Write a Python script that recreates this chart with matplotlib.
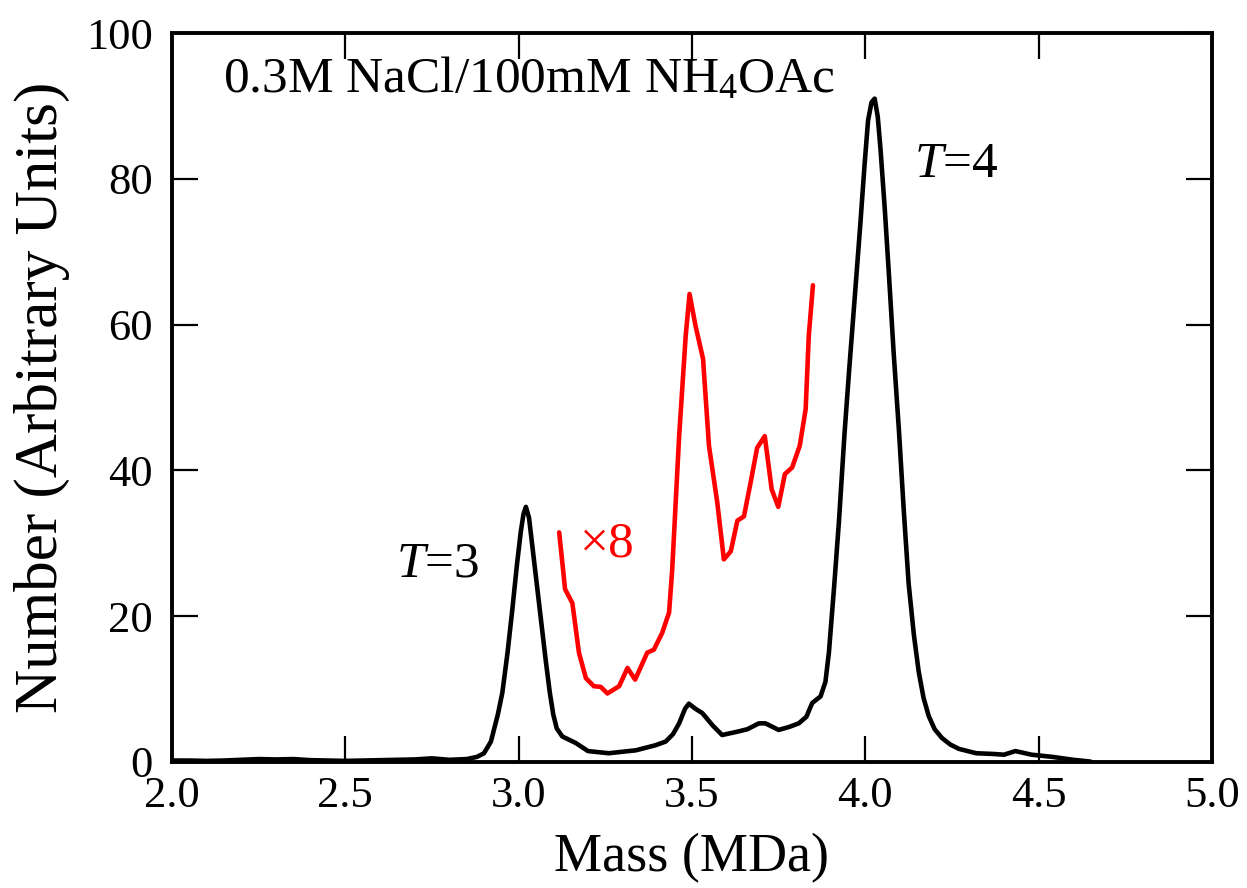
import matplotlib
matplotlib.use("Agg")
import matplotlib.pyplot as plt
import numpy as np

plt.rcParams['font.family'] = 'Liberation Serif'
plt.rcParams['mathtext.fontset'] = 'custom'
plt.rcParams['mathtext.rm'] = 'Liberation Serif'
plt.rcParams['mathtext.it'] = 'Liberation Serif:italic'

# Spettro principale (massa in MDa, numero)
mass_black = [2.00, 2.05, 2.10, 2.15, 2.20, 2.25, 2.30, 2.35, 2.40, 2.45, 2.50,
              2.55, 2.60, 2.65, 2.70, 2.75, 2.80, 2.85, 2.88, 2.90, 2.92, 2.94,
              2.953, 2.968, 2.982, 2.995, 3.006, 3.014, 3.021, 3.03, 3.045, 3.062,
              3.078, 3.09, 3.10, 3.11, 3.126, 3.165, 3.20,
              3.26, 3.318, 3.338, 3.395, 3.424, 3.445, 3.463, 3.48, 3.491, 3.51,
              3.53, 3.56, 3.587, 3.635,
              3.66, 3.693, 3.712, 3.75, 3.78, 3.808, 3.83, 3.847, 3.871, 3.885,
              3.895, 3.91, 3.924, 3.94, 3.953, 3.97, 3.986, 3.998, 4.008, 4.018,
              4.027, 4.036, 4.044, 4.056, 4.068, 4.082, 4.097, 4.111, 4.125, 4.14,
              4.154, 4.168, 4.183, 4.20, 4.221, 4.245, 4.27, 4.32, 4.37, 4.40,
              4.433, 4.48, 4.54, 4.60, 4.65]
count_black = [0.2, 0.2, 0.15, 0.2, 0.3, 0.4, 0.35, 0.4, 0.25, 0.2, 0.15,
               0.2, 0.25, 0.3, 0.35, 0.5, 0.3, 0.4, 0.7, 1.2, 2.8, 6.5,
               9.5, 15.0, 21.0, 27.0, 31.5, 34.0, 35.0, 33.5, 27.4, 20.5,
               14.0, 9.5, 6.5, 4.6, 3.5, 2.6, 1.5,
               1.2, 1.5, 1.6, 2.3, 2.8, 3.8, 5.3, 7.3, 8.0, 7.3,
               6.7, 5.0, 3.7, 4.2,
               4.5, 5.3, 5.3, 4.4, 4.8, 5.3, 6.2, 8.1, 9.0, 11.0,
               15.0, 24.0, 33.0, 45.0, 53.5, 64.0, 74.0, 82.0, 88.0, 90.5,
               91.0, 88.5, 84.0, 76.0, 67.0, 56.0, 45.5, 34.5, 24.5, 17.5,
               12.4, 8.8, 6.3, 4.5, 3.3, 2.4, 1.8, 1.2, 1.1, 1.0,
               1.5, 1.0, 0.7, 0.3, 0.05]

# Tratto ingrandito x8
mass_red = [3.117, 3.134, 3.155, 3.174, 3.194, 3.217, 3.237, 3.256, 3.29, 3.314,
            3.336, 3.371, 3.39, 3.414, 3.434, 3.443, 3.463, 3.482, 3.493, 3.51,
            3.532, 3.549, 3.573, 3.592, 3.612, 3.631, 3.65, 3.669, 3.688, 3.71,
            3.73, 3.749, 3.768, 3.789, 3.811, 3.828, 3.837, 3.849]
count_red = [31.5, 23.7, 21.8, 15.0, 11.5, 10.4, 10.3, 9.4, 10.4, 12.9,
             11.3, 15.0, 15.4, 17.7, 20.5, 26.4, 44.7, 58.5, 64.2, 59.9,
             55.3, 43.4, 35.6, 27.8, 28.9, 33.1, 33.7, 38.3, 43.1, 44.7,
             37.4, 35.0, 39.5, 40.4, 43.4, 48.4, 58.5, 65.4]

x_ticks = [2.0, 2.5, 3.0, 3.5, 4.0, 4.5, 5.0]
y_ticks = [0, 20, 40, 60, 80, 100]

fig = plt.figure(figsize=(12.47, 8.88), dpi=100)
ax = fig.add_axes([0.1379, 0.1419, 0.834, 0.8209])

ax.plot(mass_black, count_black, color='black', linewidth=3.3,
        solid_joinstyle='round', solid_capstyle='round')
ax.plot(mass_red, count_red, color='#ff0000', linewidth=3.3,
        solid_joinstyle='round', solid_capstyle='round')

ax.set_xlim(2.0, 5.0)
ax.set_ylim(0, 100)
ax.set_xticks(x_ticks)
ax.set_xticklabels([f"{t:.1f}" for t in x_ticks])
ax.set_yticks(y_ticks)
ax.tick_params(direction='in', length=19, width=1.6, top=True, right=True,
               labelsize=32)
ax.tick_params(axis='x', pad=10)
ax.tick_params(axis='y', pad=14)
for s in ax.spines.values():
    s.set_linewidth(2.8)

ax.set_xlabel('Mass (MDa)', fontsize=39, labelpad=12)
ax.set_ylabel('Number (Arbitrary Units)', fontsize=44, labelpad=11)

ax.text(2.147, 91.9, r'0.3M NaCl/100mM NH$_4$OAc', fontsize=37, va='baseline')
ax.text(2.647, 25.5, r'$T$=3', fontsize=37, va='baseline')
ax.text(4.14, 80.3, r'$T$=4', fontsize=37, va='baseline')
ax.text(3.178, 28.2, '\u00d78', fontsize=37, va='baseline', color='#ff0000')

fig.savefig('out.png', dpi=100)
